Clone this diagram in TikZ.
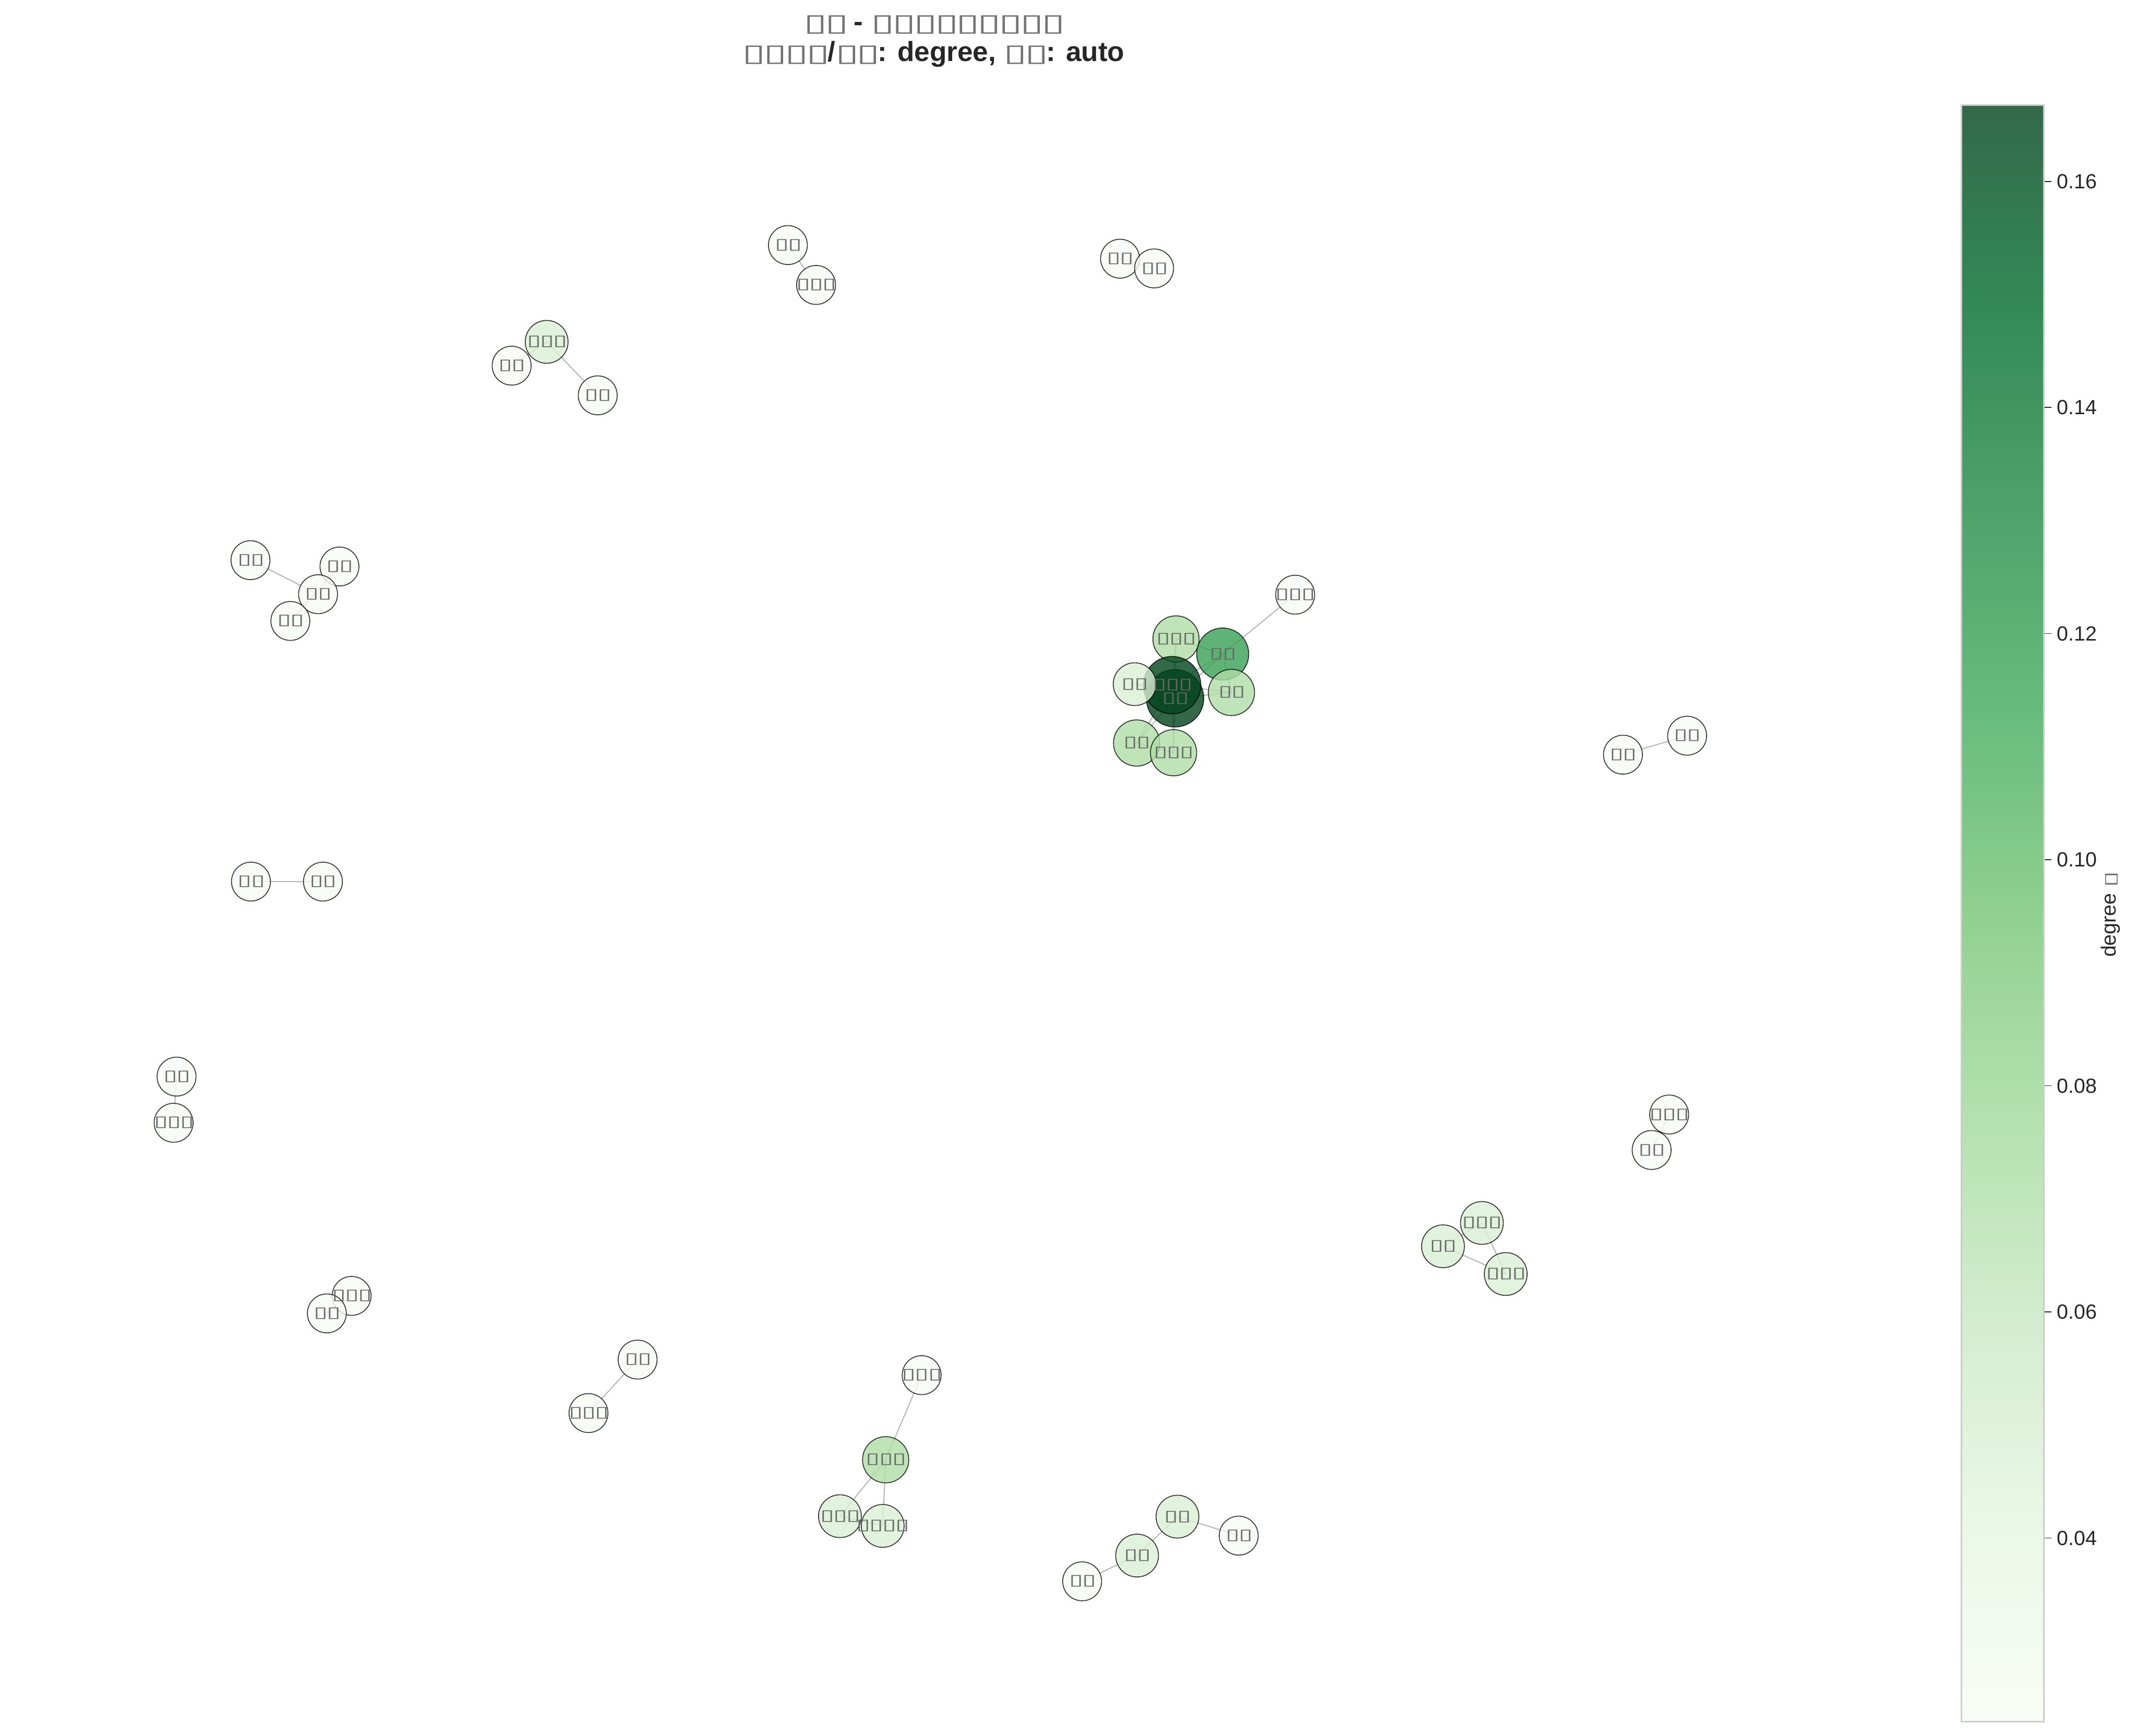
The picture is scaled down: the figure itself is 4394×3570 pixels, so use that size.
\documentclass[tikz,border=0pt]{standalone}
\usepackage{fontspec}
\setmainfont{Liberation Sans}
\newfontfamily\tofufont{DejaVu Sans}
\usetikzlibrary{positioning, backgrounds}

% degree colours (Greens)
\definecolor{gOne}{RGB}{247,252,245}
\definecolor{gTwo}{RGB}{219,241,213}
\definecolor{gThree}{RGB}{174,222,167}
\definecolor{gFive}{RGB}{55,160,85}
\definecolor{gSeven}{RGB}{0,68,27}
\definecolor{linkgray}{RGB}{180,180,180}
\definecolor{txtdark}{RGB}{38,38,38}
\definecolor{cbgray}{RGB}{204,204,204}

\pgfdeclareverticalshading{greenbar}{100bp}{%
  rgb(0bp)=(0.976,0.992,0.969);
  rgb(25bp)=(0.976,0.992,0.969);
  rgb(31.25bp)=(0.918,0.969,0.902);
  rgb(37.5bp)=(0.824,0.929,0.804);
  rgb(43.75bp)=(0.706,0.882,0.686);
  rgb(50bp)=(0.565,0.816,0.569);
  rgb(56.25bp)=(0.404,0.737,0.490);
  rgb(62.5bp)=(0.310,0.635,0.416);
  rgb(68.75bp)=(0.2,0.541,0.337);
  rgb(75bp)=(0.2,0.412,0.286);
  rgb(100bp)=(0.2,0.412,0.286)}

% boxes standing for the glyphs the original font lacked
\newcommand{\tofu}{\scalebox{1.7}[1]{\tofufont ▯}\kern-0.6pt}
\newcommand{\ttofu}{\textcolor{black!55}{\scalebox{1.79}[1]{\tofufont\mdseries\fontsize{14.1}{14.1}\selectfont ▯}}\kern-1.4pt}
\newcommand{\ctofu}{\textcolor{black!55}{\scalebox{1.82}[1]{\tofufont\fontsize{9.56}{9.56}\selectfont ▯}}}

\begin{document}
\begin{tikzpicture}[
    x=0.01cm, y=-0.01cm,
    vnode/.style={circle, draw=black, inner sep=0pt, line width=0.5pt, draw opacity=0.8, fill opacity=0.8},
    deg1/.style={vnode, minimum size=0.80cm, fill=gOne},
    deg2/.style={vnode, minimum size=0.88cm, fill=gTwo},
    deg3/.style={vnode, minimum size=0.95cm, fill=gThree},
    deg5/.style={vnode, minimum size=1.07cm, fill=gFive},
    deg7/.style={vnode, minimum size=1.18cm, fill=gSeven},
    link/.style={draw=linkgray, line width=0.6pt},
    lbl/.style={inner sep=0pt, text=black!60, font=\fontsize{8.8}{8.8}\selectfont},
    cbar/.style={draw=cbgray, line width=0.85pt, shading=greenbar, minimum width=1.69cm, minimum height=33.23cm, inner sep=0pt},
    cbtick/.style={draw=txtdark, line width=0.5pt},
    cblbl/.style={anchor=west, inner sep=0pt, text=txtdark, font=\fontsize{12}{12}\selectfont},
]
\useasboundingbox (0,0) rectangle (4394,3570);

% nodes
\node[deg1] (a1) at (1620,504) {};
\node[deg1] (a2) at (1678,586) {};
\node[deg1] (b1) at (2303,532) {};
\node[deg1] (b2) at (2373,552) {};
\node[deg1] (c2) at (1052,752) {};
\node[deg2] (c1) at (1124,703) {};
\node[deg1] (c3) at (1229,813) {};
\node[deg1] (d1) at (515,1152) {};
\node[deg1] (d3) at (698,1165) {};
\node[deg1] (d2) at (654,1222) {};
\node[deg1] (d4) at (597,1277) {};
\node[deg1] (k7) at (2663,1223) {};
\node[deg5] (k2) at (2514,1345) {};
\node[deg3] (k1) at (2418,1314) {};
\node[deg7] (hubB) at (2416,1436) {};
\node[deg7] (hubA) at (2410,1409) {};
\node[deg2] (k3) at (2333,1407) {};
\node[deg3] (k4) at (2532,1424) {};
\node[deg3] (k5) at (2337,1528) {};
\node[deg3] (k6) at (2413,1548) {};
\node[deg1] (e1) at (3337,1552) {};
\node[deg1] (e2) at (3469,1513) {};
\node[deg1] (f1) at (516,1813) {};
\node[deg1] (f2) at (664,1813) {};
\node[deg1] (g1) at (363,2214) {};
\node[deg1] (g2) at (357,2309) {};
\node[deg1] (h1) at (3432,2292) {};
\node[deg1] (h2) at (3396,2365) {};
\node[deg2] (t1) at (3047,2515) {};
\node[deg2] (t2) at (2967,2563) {};
\node[deg2] (t3) at (3096,2620) {};
\node[deg1] (i1) at (723,2665) {};
\node[deg1] (i2) at (672,2701) {};
\node[deg1] (j1) at (1311,2796) {};
\node[deg1] (j2) at (1210,2906) {};
\node[deg1] (m1) at (1895,2828) {};
\node[deg3] (m2) at (1821,3002) {};
\node[deg2] (m3) at (1727,3118) {};
\node[deg2] (m4) at (1815,3138) {};
\node[deg1] (p1) at (2225,3252) {};
\node[deg2] (p2) at (2338,3199) {};
\node[deg2] (p3) at (2421,3119) {};
\node[deg1] (p4) at (2547,3158) {};

% edges, behind the nodes
\begin{scope}[on background layer]
\fill[white] (0,0) rectangle (4394,3570);
\foreach \u/\v in {a1/a2, b1/b2, c1/c2, c1/c3, d1/d2, d4/d3,
    hubA/hubB, hubA/k1, hubA/k2, hubA/k3, hubA/k4, hubA/k5, hubA/k6,
    hubB/k1, hubB/k2, hubB/k3, hubB/k4, hubB/k5, hubB/k6,
    k1/k2, k2/k4, k5/k6, k2/k7,
    e1/e2, f1/f2, g1/g2, h1/h2, t1/t2, t2/t3, t1/t3, i1/i2, j1/j2,
    m2/m1, m2/m3, m2/m4, m3/m4, p1/p2, p2/p3, p3/p4}
  \draw[link] (\u.center) -- (\v.center);
\end{scope}

% labels
\node[lbl] (a1-t) at (a1) {\tofu\tofu};
\node[lbl] (a2-t) at (a2) {\tofu\tofu\tofu};
\node[lbl] (b1-t) at (b1) {\tofu\tofu};
\node[lbl] (b2-t) at (b2) {\tofu\tofu};
\node[lbl] (c1-t) at (c1) {\tofu\tofu\tofu};
\node[lbl] (c2-t) at (c2) {\tofu\tofu};
\node[lbl] (c3-t) at (c3) {\tofu\tofu};
\node[lbl] (d1-t) at (d1) {\tofu\tofu};
\node[lbl] (d2-t) at (d2) {\tofu\tofu};
\node[lbl] (d3-t) at (d3) {\tofu\tofu};
\node[lbl] (d4-t) at (d4) {\tofu\tofu};
\node[lbl] (k1-t) at (k1) {\tofu\tofu\tofu};
\node[lbl] (k2-t) at (k2) {\tofu\tofu};
\node[lbl] (k3-t) at (k3) {\tofu\tofu};
\node[lbl] (k4-t) at (k4) {\tofu\tofu};
\node[lbl] (k5-t) at (k5) {\tofu\tofu};
\node[lbl] (k6-t) at (k6) {\tofu\tofu\tofu};
\node[lbl] (k7-t) at (k7) {\tofu\tofu\tofu};
\node[lbl] (hubA-t) at (hubA) {\tofu\tofu\tofu};
\node[lbl] (hubB-t) at (hubB) {\tofu\tofu};
\node[lbl] (e1-t) at (e1) {\tofu\tofu};
\node[lbl] (e2-t) at (e2) {\tofu\tofu};
\node[lbl] (f1-t) at (f1) {\tofu\tofu};
\node[lbl] (f2-t) at (f2) {\tofu\tofu};
\node[lbl] (g1-t) at (g1) {\tofu\tofu};
\node[lbl] (g2-t) at (g2) {\tofu\tofu\tofu};
\node[lbl] (h1-t) at (h1) {\tofu\tofu\tofu};
\node[lbl] (h2-t) at (h2) {\tofu\tofu};
\node[lbl] (t1-t) at (t1) {\tofu\tofu\tofu};
\node[lbl] (t2-t) at (t2) {\tofu\tofu};
\node[lbl] (t3-t) at (t3) {\tofu\tofu\tofu};
\node[lbl] (i1-t) at (i1) {\tofu\tofu\tofu};
\node[lbl] (i2-t) at (i2) {\tofu\tofu};
\node[lbl] (j1-t) at (j1) {\tofu\tofu};
\node[lbl] (j2-t) at (j2) {\tofu\tofu\tofu};
\node[lbl] (m1-t) at (m1) {\tofu\tofu\tofu};
\node[lbl] (m2-t) at (m2) {\tofu\tofu\tofu};
\node[lbl] (m3-t) at (m3) {\tofu\tofu\tofu};
\node[lbl] (m4-t) at (m4) {\tofu\tofu\tofu\tofu};
\node[lbl] (p1-t) at (p1) {\tofu\tofu};
\node[lbl] (p2-t) at (p2) {\tofu\tofu};
\node[lbl] (p3-t) at (p3) {\tofu\tofu};
\node[lbl] (p4-t) at (p4) {\tofu\tofu};

% title
\node[align=center, text=txtdark, inner sep=0pt, font=\bfseries\fontsize{16.2}{17.9}\selectfont] (title) at (1919,85)
  {\ttofu\ttofu{} - \ttofu\ttofu\ttofu\ttofu\ttofu\ttofu\ttofu\ttofu\ttofu\\
   \ttofu\ttofu\ttofu\ttofu/\ttofu\ttofu: degree, \ttofu\ttofu: auto};

% colour bar
\node[cbar] (cbar) at (4117.5,1878.5) {};
\foreach \v/\y in {0.16/373, 0.14/838, 0.12/1303, 0.10/1768, 0.08/2233, 0.06/2698, 0.04/3163} {
  \node[cblbl] (tk\y) at (4229,\y) {\v};
  \draw[cbtick] (cbar.east |- tk\y) -- ++(14,0);
}
\node[rotate=90, inner sep=0pt, text=txtdark, font=\fontsize{12}{12}\selectfont] (cbname) at (4340,1880) {degree \ctofu};
\end{tikzpicture}
\end{document}
